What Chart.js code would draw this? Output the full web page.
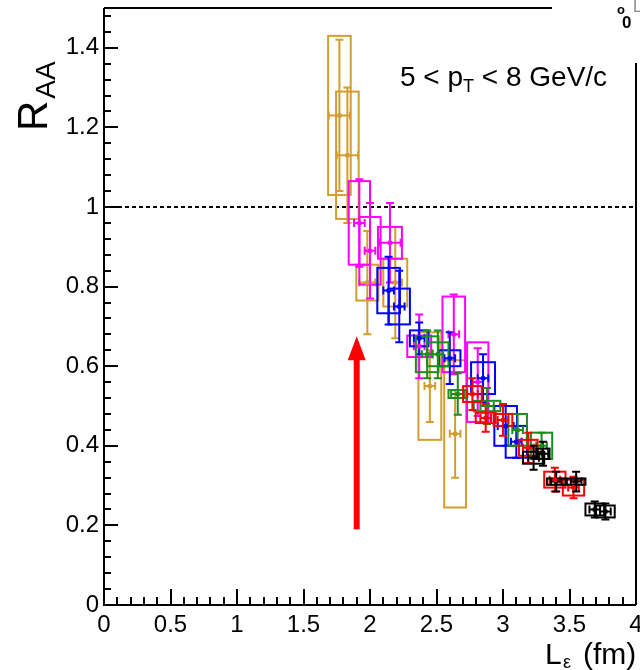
<!DOCTYPE html>
<html>
<head>
<meta charset="utf-8">
<script src="https://cdn.jsdelivr.net/npm/chart.js@4/dist/chart.umd.min.js"></script>
<style>
  html, body { margin: 0; padding: 0; background: #fff; }
  #wrap { width: 640px; height: 670px; position: relative; }
</style>
</head>
<body>
<div id="wrap"><canvas id="raa" width="640" height="670"></canvas></div>
<script>
// R_AA versus path length L_eps, 5 < pT < 8 GeV/c.
// Per series: L (fm), R_AA, stat. error, syst. error, stat. error in L, syst. error in L.
const goldL     = [1.77, 1.83, 1.98, 2.19, 2.45, 2.64];
const goldR     = [1.23, 1.13, 0.81, 0.81, 0.55, 0.43];
const goldStat  = [0.19, 0.17, 0.13, 0.14, 0.09, 0.11];
const goldSys   = [0.20, 0.16, 0.045, 0.06, 0.135, 0.185];
const goldStatL = [0.08, 0.08, 0.06, 0.05, 0.04, 0.04];
const goldSysL  = [0.085, 0.085, 0.083, 0.09, 0.086, 0.082];

const magL      = [1.92, 2.00, 2.15, 2.37, 2.63, 2.81];
const magR      = [0.96, 0.89, 0.91, 0.65, 0.68, 0.56];
const magStat   = [0.11, 0.12, 0.10, 0.08, 0.10, 0.085];
const magSys    = [0.105, 0.085, 0.04, 0.027, 0.095, 0.10];
const magStatL  = [0.04, 0.04, 0.08, 0.04, 0.04, 0.04];
const magSysL   = [0.08, 0.08, 0.09, 0.09, 0.085, 0.08];

const blueL     = [2.14, 2.22, 2.37, 2.60, 2.85, 3.02, 3.10];
const blueR     = [0.79, 0.75, 0.67, 0.62, 0.57, 0.45, 0.41];
const blueStat  = [0.085, 0.09, 0.04, 0.065, 0.06, 0.05, 0.04];
const blueSys   = [0.057, 0.045, 0.02, 0.02, 0.04, 0.05, 0.04];
const blueStatL = [0.04, 0.04, 0.04, 0.04, 0.04, 0.06, 0.04];
const blueSysL  = [0.085, 0.08, 0.07, 0.08, 0.09, 0.085, 0.08];

const greenL     = [2.43, 2.51, 2.66, 2.88, 3.11, 3.29];
const greenR     = [0.63, 0.63, 0.53, 0.50, 0.44, 0.40];
const greenStat  = [0.06, 0.06, 0.052, 0.045, 0.04, 0.033];
const greenSys   = [0.045, 0.03, 0.01, 0.013, 0.04, 0.033];
const greenStatL = [0.04, 0.04, 0.05, 0.05, 0.04, 0.04];
const greenSysL  = [0.085, 0.08, 0.07, 0.1, 0.07, 0.08];

const redL      = [2.77, 2.87, 3.00, 3.19, 3.39, 3.53];
const redR      = [0.53, 0.47, 0.465, 0.395, 0.315, 0.295];
const redStat   = [0.04, 0.035, 0.04, 0.038, 0.03, 0.027];
const redSys    = [0.02, 0.013, 0.015, 0.02, 0.02, 0.02];
const redStatL  = [0.04, 0.04, 0.04, 0.04, 0.04, 0.04];
const redSysL   = [0.07, 0.075, 0.07, 0.07, 0.08, 0.08];

const blackL     = [3.23, 3.30, 3.40, 3.55, 3.69, 3.77];
const blackR     = [0.37, 0.38, 0.31, 0.31, 0.24, 0.235];
const blackStat  = [0.03, 0.03, 0.025, 0.025, 0.02, 0.02];
const blackSys   = [0.015, 0.013, 0.008, 0.008, 0.015, 0.015];
const blackStatL = [0.04, 0.04, 0.04, 0.04, 0.04, 0.04];
const blackSysL  = [0.08, 0.05, 0.07, 0.07, 0.07, 0.07];

// Axis ticks
const xTicks = [0, 0.5, 1, 1.5, 2, 2.5, 3, 3.5, 4];
const yTicks = [0, 0.2, 0.4, 0.6, 0.8, 1, 1.2, 1.4];

// Reference line and arrow
const unityLine = 1;
const arrowL = 1.9, arrowFrom = 0.19, arrowTo = 0.675;

const series = [
  { color: '#d29e30', L: goldL,  R: goldR,  stat: goldStat,  sys: goldSys,  statL: goldStatL,  sysL: goldSysL },
  { color: '#ff00ff', L: magL,   R: magR,   stat: magStat,   sys: magSys,   statL: magStatL,   sysL: magSysL },
  { color: '#0000ff', L: blueL,  R: blueR,  stat: blueStat,  sys: blueSys,  statL: blueStatL,  sysL: blueSysL },
  { color: '#1c8c1c', L: greenL, R: greenR, stat: greenStat, sys: greenSys, statL: greenStatL, sysL: greenSysL },
  { color: '#ff0000', L: redL,   R: redR,   stat: redStat,   sys: redSys,   statL: redStatL,   sysL: redSysL },
  { color: '#000000', L: blackL, R: blackR, stat: blackStat, sys: blackSys, statL: blackStatL, sysL: blackSysL }
];

const FONT = "'Liberation Sans', Arial, sans-serif";

// Systematic boxes and statistical bars, drawn beneath the markers
const errorPlugin = {
  id: 'errors',
  beforeDatasetsDraw(chart) {
    const { ctx, chartArea: a, scales: { x, y } } = chart;
    ctx.save();
    ctx.beginPath();
    ctx.rect(a.left, a.top, a.right - a.left, a.bottom - a.top);
    ctx.clip();
    ctx.lineWidth = 2;
    const cap = 4;
    series.forEach(s => {
      ctx.strokeStyle = s.color;
      s.L.forEach((l, i) => {
        const r = s.R[i];
        const px = x.getPixelForValue(l), py = y.getPixelForValue(r);
        // syst. box
        const bx0 = x.getPixelForValue(l - s.sysL[i]), bx1 = x.getPixelForValue(l + s.sysL[i]);
        const by0 = y.getPixelForValue(r + s.sys[i]), by1 = y.getPixelForValue(r - s.sys[i]);
        ctx.strokeRect(bx0, by0, bx1 - bx0, by1 - by0);
        // stat. bar in R_AA
        const sy0 = y.getPixelForValue(r + s.stat[i]), sy1 = y.getPixelForValue(r - s.stat[i]);
        ctx.beginPath();
        ctx.moveTo(px, sy0); ctx.lineTo(px, sy1);
        ctx.moveTo(px - cap, sy0); ctx.lineTo(px + cap, sy0);
        ctx.moveTo(px - cap, sy1); ctx.lineTo(px + cap, sy1);
        // stat. bar in L
        const sx0 = x.getPixelForValue(l - s.statL[i]), sx1 = x.getPixelForValue(l + s.statL[i]);
        ctx.moveTo(sx0, py); ctx.lineTo(sx1, py);
        ctx.moveTo(sx0, py - cap); ctx.lineTo(sx0, py + cap);
        ctx.moveTo(sx1, py - cap); ctx.lineTo(sx1, py + cap);
        ctx.stroke();
      });
    });
    ctx.restore();
  }
};

// Frame, inner ticks, unity line, arrow and annotations
const decorPlugin = {
  id: 'decor',
  beforeDatasetsDraw(chart) {
    const { ctx, chartArea: a, scales: { x, y } } = chart;
    ctx.save();
    // dashed line at R_AA = 1
    ctx.strokeStyle = '#000';
    ctx.lineWidth = 2;
    ctx.setLineDash([4, 3]);
    const uy = Math.round(y.getPixelForValue(unityLine));
    ctx.beginPath(); ctx.moveTo(a.left, uy); ctx.lineTo(a.right, uy); ctx.stroke();
    ctx.setLineDash([]);
    ctx.restore();
  },
  afterDraw(chart) {
    const { ctx, chartArea: a, scales: { x, y } } = chart;
    ctx.save();
    // arrow
    const ax = x.getPixelForValue(arrowL);
    const ay0 = y.getPixelForValue(arrowFrom), ay1 = y.getPixelForValue(arrowTo);
    const head = 24;
    ctx.fillStyle = '#ff0000';
    ctx.fillRect(ax - 3, ay1 + head - 2, 6, ay0 - ay1 - head + 2);
    ctx.beginPath();
    ctx.moveTo(ax, ay1);
    ctx.lineTo(ax - 9, ay1 + head);
    ctx.lineTo(ax + 9, ay1 + head);
    ctx.closePath();
    ctx.fill();

    // frame
    ctx.strokeStyle = '#000';
    ctx.lineWidth = 2;
    ctx.beginPath();
    ctx.moveTo(a.left, a.top); ctx.lineTo(a.left, a.bottom); ctx.lineTo(a.right, a.bottom);
    ctx.moveTo(a.right, 63); ctx.lineTo(a.right, a.bottom);
    ctx.moveTo(a.left, a.top); ctx.lineTo(552, a.top);
    ctx.stroke();

    // inner ticks
    ctx.lineWidth = 2;
    ctx.beginPath();
    const xMinor = 0.1, yMinor = 0.04;
    for (let v = x.min; v <= x.max + 1e-9; v += xMinor) {
      const px = Math.round(x.getPixelForValue(v));
      const major = xTicks.some(t => Math.abs(t - v) < 1e-6);
      ctx.moveTo(px, a.bottom); ctx.lineTo(px, a.bottom - (major ? 16 : 8));
    }
    for (let v = y.min; v <= y.max + 1e-9; v += yMinor) {
      const py = Math.round(y.getPixelForValue(v));
      const major = yTicks.some(t => Math.abs(t - v) < 1e-6);
      ctx.moveTo(a.left, py); ctx.lineTo(a.left + (major ? 14 : 7), py);
    }
    ctx.stroke();

    // pT range
    ctx.fillStyle = '#000';
    ctx.textBaseline = 'alphabetic';
    ctx.textAlign = 'left';
    let tx = 400; const ty = 86;
    ctx.font = `28px ${FONT}`;
    const part1 = '5 < p';
    ctx.fillText(part1, tx, ty); tx += ctx.measureText(part1).width;
    ctx.font = `18px ${FONT}`;
    ctx.fillText('T', tx, ty + 6); tx += ctx.measureText('T').width;
    ctx.font = `28px ${FONT}`;
    ctx.fillText(' < 8 GeV/c', tx, ty);

    // y title
    ctx.save();
    ctx.translate(47, 131);
    ctx.rotate(-Math.PI / 2);
    ctx.font = `42px ${FONT}`;
    ctx.fillText('R', 0, 0);
    const rw = ctx.measureText('R').width;
    ctx.font = `28px ${FONT}`;
    ctx.fillText('AA', rw + 2, 8);
    ctx.restore();

    // x title
    ctx.font = `30px ${FONT}`;
    ctx.fillText('L', 545, 664);
    ctx.font = `18px ${FONT}`;
    ctx.fillText('\u03b5', 563, 668);
    ctx.font = `30px ${FONT}`;
    ctx.fillText('(fm)', 583, 664);

    // corner fragment
    ctx.font = `bold 13px ${FONT}`;
    ctx.fillText('o', 617, 14);
    ctx.font = `bold 17px ${FONT}`;
    ctx.fillText('0', 622, 28);
    ctx.fillStyle = '#888';
    ctx.font = `16px ${FONT}`;
    ctx.fillText('L', 633, 12);
    ctx.restore();
  }
};

const datasets = series.map(s => ({
  data: s.L.map((l, i) => ({ x: l, y: s.R[i] })),
  backgroundColor: s.color,
  borderColor: s.color,
  pointRadius: 2.5,
  pointBorderWidth: 0,
  showLine: false
}));

new Chart(document.getElementById('raa'), {
  type: 'scatter',
  data: { datasets },
  options: {
    responsive: false,
    animation: false,
    devicePixelRatio: 1,
    layout: { padding: { top: 8, right: 2, left: 0, bottom: 0 } },
    plugins: { legend: { display: false }, tooltip: { enabled: false } },
    scales: {
      x: {
        type: 'linear', min: 0, max: 4,
        grid: { display: false, drawTicks: false },
        border: { display: false },
        afterBuildTicks: sc => { sc.ticks = xTicks.map(v => ({ value: v })); },
        afterFit: sc => { sc.height = 65; sc.paddingLeft = 0; sc.paddingRight = 0; },
        ticks: {
          padding: 6, color: '#000', maxRotation: 0, autoSkip: false,
          font: { family: FONT, size: 24 },
          callback: v => String(+v.toFixed(2))
        }
      },
      y: {
        type: 'linear', min: 0, max: 1.5,
        grid: { display: false, drawTicks: false },
        border: { display: false },
        afterBuildTicks: sc => { sc.ticks = yTicks.map(v => ({ value: v })); },
        afterFit: sc => { sc.width = 104; sc.paddingTop = 0; sc.paddingBottom = 0; },
        ticks: {
          padding: 5, color: '#000', autoSkip: false,
          font: { family: FONT, size: 24 },
          callback: v => String(+v.toFixed(2))
        }
      }
    }
  },
  plugins: [decorPlugin, errorPlugin]
});
</script>
</body>
</html>
